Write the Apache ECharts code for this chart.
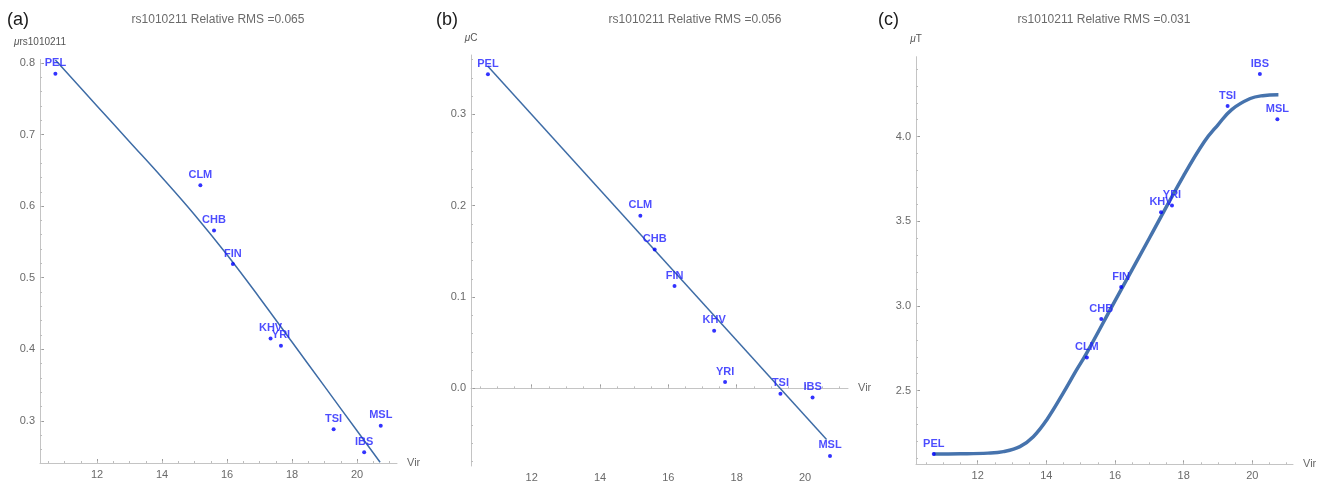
<!DOCTYPE html>
<html>
<head>
<meta charset="utf-8">
<script src="https://cdn.jsdelivr.net/npm/echarts@6/dist/echarts.min.js"></script>
<style>
  html, body { margin: 0; padding: 0; background: #ffffff; }
  #chart { width: 1327px; height: 483px; }
</style>
</head>
<body>
<div id="chart"></div>
<script>
// ---- data ----
const pops = ['PEL', 'CLM', 'CHB', 'FIN', 'KHV', 'YRI', 'TSI', 'IBS', 'MSL'];
const vir  = [10.72, 15.18, 15.60, 16.18, 17.34, 17.66, 19.28, 20.22, 20.73];
const muRs = [0.785, 0.629, 0.566, 0.519, 0.415, 0.405, 0.288, 0.256, 0.293];
const muC  = [0.344, 0.189, 0.152, 0.112, 0.063, 0.007, -0.006, -0.010, -0.074];
const muT  = [2.126, 2.695, 2.923, 3.112, 3.553, 3.593, 4.181, 4.370, 4.103];

const fitAx = [10.72, 12.00, 13.00, 14.00, 15.00, 16.00, 17.00, 18.00, 19.00, 20.00, 20.71];
const fitAy = [0.804, 0.740, 0.690, 0.640, 0.588, 0.532, 0.472, 0.410, 0.348, 0.286, 0.242];
const fitBx = [10.71, 20.63];
const fitBy = [0.353, -0.056];
const fitCx = [10.71, 11.50, 12.30, 12.75, 13.23, 13.62, 14.01, 14.49, 14.88, 15.17, 16.00, 17.00, 18.00, 18.60, 19.00, 19.40, 19.94, 20.30, 20.76];
const fitCy = [2.126, 2.127, 2.131, 2.140, 2.169, 2.228, 2.327, 2.485, 2.622, 2.720, 3.030, 3.400, 3.770, 3.970, 4.070, 4.160, 4.225, 4.242, 4.247];

const xTicks  = [12, 14, 16, 18, 20];
const yTicksA = [0.3, 0.4, 0.5, 0.6, 0.7, 0.8];
const yTicksB = [0.0, 0.1, 0.2, 0.3];
const yTicksC = [2.5, 3.0, 3.5, 4.0];
const titles  = ['rs1010211 Relative RMS =0.065', 'rs1010211 Relative RMS =0.056', 'rs1010211 Relative RMS =0.031'];
const panelTags = ['(a)', '(b)', '(c)'];
const yNames = ['rs1010211', 'C', 'T'];

// ---- helpers ----
function range(a, b, step) {
  const out = [];
  const n = Math.round((b - a) / step);
  for (let i = 0; i <= n; i++) out.push(+(a + i * step).toFixed(4));
  return out;
}
const FONT = 'Liberation Sans, Arial, sans-serif';
const AXIS_COLOR = '#c4c4c4';
const TICK_COLOR = '#9a9a9a';
const LABEL_COLOR = '#6a6a6a';

const panels = [
  { grid: { left: 40, top: 59.4, width: 357, height: 403.6 }, xmin: 10.246, xmax: 21.23, ymin: 0.241, ymax: 0.805,
    yTicks: yTicksA, yMinor: range(0.26, 0.80, 0.02), onZero: false, ys: muRs, fx: fitAx, fy: fitAy, smooth: 0.4, lw: 1.5 },
  { grid: { left: 471, top: 55, width: 377, height: 425 }, xmin: 10.224, xmax: 21.257, ymin: -0.085, ymax: 0.365,
    yTicks: yTicksB, yMinor: range(-0.08, 0.36, 0.02), onZero: true, ys: muC, fx: fitBx, fy: fitBy, smooth: false, lw: 1.5 },
  { grid: { left: 916, top: 56.7, width: 377, height: 407.6 }, xmin: 10.203, xmax: 21.185, ymin: 2.065, ymax: 4.472,
    yTicks: yTicksC, yMinor: range(2.1, 4.4, 0.1), onZero: false, ys: muT, fx: fitCx, fy: fitCy, smooth: 0.4, lw: 3.5 }
];
const xMinor = range(10.5, 21.0, 0.5);

const grids = [], xAxes = [], yAxes = [], series = [], graphics = [];
panels.forEach((p, k) => {
  grids.push(p.grid);
  const xi = xAxes.length, yi = yAxes.length;
  xAxes.push({
    type: 'value', gridIndex: k, min: p.xmin, max: p.xmax, position: 'bottom',
    name: 'Vir', nameLocation: 'end', nameGap: 10,
    nameTextStyle: { color: '#6a6a6a', fontSize: 11, fontFamily: FONT, verticalAlign: 'middle', align: 'left' },
    splitLine: { show: false },
    axisLine: { show: true, onZero: p.onZero, onZeroAxisIndex: yi, lineStyle: { color: AXIS_COLOR, width: 1 } },
    axisTick: { show: true, inside: true, length: 4, customValues: xTicks, lineStyle: { color: TICK_COLOR } },
    axisLabel: { show: true, customValues: xTicks, margin: 6, color: LABEL_COLOR, fontSize: 11, fontFamily: FONT,
                 formatter: v => String(Math.round(v)) }
  });
  xAxes.push({
    type: 'value', gridIndex: k, min: p.xmin, max: p.xmax, position: 'bottom',
    splitLine: { show: false },
    axisLine: { show: false, onZero: p.onZero, onZeroAxisIndex: yi },
    axisTick: { show: true, inside: true, length: 2, customValues: xMinor, lineStyle: { color: '#bdbdbd' } },
    axisLabel: { show: false }
  });
  yAxes.push({
    type: 'value', gridIndex: k, min: p.ymin, max: p.ymax, position: 'left',
    name: '{i|\u03bc}' + yNames[k], nameLocation: 'end', nameGap: 12,
    nameTextStyle: { color: '#555', fontSize: 10, fontFamily: FONT, align: 'center',
                     rich: { i: { fontStyle: 'italic', fontSize: 10, color: '#555', fontFamily: FONT } } },
    splitLine: { show: false },
    axisLine: { show: true, onZero: false, lineStyle: { color: AXIS_COLOR, width: 1 } },
    axisTick: { show: true, inside: true, length: 4, customValues: p.yTicks, lineStyle: { color: TICK_COLOR } },
    axisLabel: { show: true, customValues: p.yTicks, margin: 5, color: LABEL_COLOR, fontSize: 11, fontFamily: FONT,
                 formatter: v => v.toFixed(1) }
  });
  yAxes.push({
    type: 'value', gridIndex: k, min: p.ymin, max: p.ymax, position: 'left',
    splitLine: { show: false },
    axisLine: { show: false, onZero: false },
    axisTick: { show: true, inside: true, length: 2, customValues: p.yMinor, lineStyle: { color: '#bdbdbd' } },
    axisLabel: { show: false }
  });

  series.push({
    type: 'line', xAxisIndex: xi, yAxisIndex: yi, smooth: p.smooth,
    showSymbol: false, silent: true,
    data: p.fx.map((x, i) => [x, p.fy[i]]),
    lineStyle: { color: k === 2 ? '#4673ad' : '#3e6ca6', width: p.lw }, z: 2
  });
  series.push({
    type: 'scatter', xAxisIndex: xi, yAxisIndex: yi, symbolSize: 4,
    data: pops.map((name, i) => [vir[i], p.ys[i], name]),
    itemStyle: { color: '#0000ff' },
    label: { show: true, position: 'top', distance: 3, formatter: q => q.data[2],
             color: '#1f1fff', fontSize: 11, fontWeight: 'bold', fontFamily: FONT },
    z: 3
  });
});

const tagX = [7, 436, 878];
const titleX = [218, 695, 1104];
tagX.forEach((x, k) => {
  graphics.push({ type: 'text', x: x, y: 20, style: { text: panelTags[k], fill: '#1a1a1a', fontSize: 18,
    fontFamily: FONT, textAlign: 'left', textVerticalAlign: 'middle' } });
  graphics.push({ type: 'text', x: titleX[k], y: 20, style: { text: titles[k], fill: '#6b6b6b', fontSize: 12,
    fontFamily: FONT, textAlign: 'center', textVerticalAlign: 'middle' } });
});

const chart = echarts.init(document.getElementById('chart'), null, { renderer: 'canvas' });
chart.setOption({
  animation: false,
  backgroundColor: '#ffffff',
  grid: grids,
  xAxis: xAxes,
  yAxis: yAxes,
  series: series,
  graphic: graphics
});
</script>
</body>
</html>
